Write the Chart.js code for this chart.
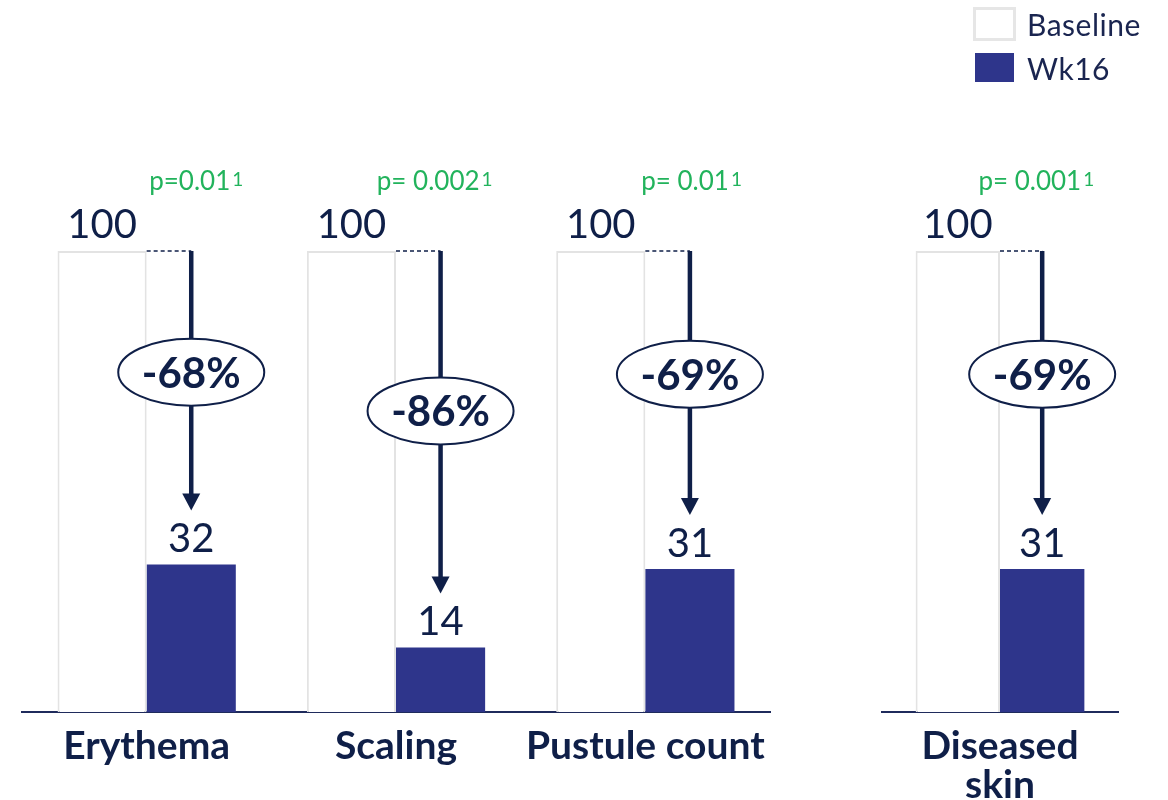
<!DOCTYPE html>
<html>
<head>
<meta charset="utf-8">
<script src="https://cdn.jsdelivr.net/npm/chart.js@4.4.1/dist/chart.umd.min.js"></script>
<style>
  html, body { margin: 0; padding: 0; background: #ffffff; }
  #wrap { position: relative; width: 1168px; height: 800px; overflow: hidden; }
  #wrap canvas { position: absolute; left: 0; top: 0; }
  #legend { position: absolute; left: 0; top: 0; width: 1168px; height: 100px; font-family: Lato, "Noto Sans", sans-serif; }
  .box { position: absolute; box-sizing: border-box; }
  .lbl { position: absolute; font-size: 30px; line-height: 30px; color: #1a2550; white-space: nowrap; letter-spacing: 0.5px; }
</style>
</head>
<body>
<div id="wrap">
  <canvas id="panelA" width="1168" height="800"></canvas>
  <canvas id="panelB" width="1168" height="800"></canvas>
  <div id="legend"></div>
</div>
<script>
// Outcome categories (the last one sits in its own panel on the right)
const categories = ['Erythema', 'Scaling', 'Pustule count', ['Diseased', 'skin']];
const seriesNames = ['Baseline', 'Wk16'];
const baselineValues = [100, 100, 100, 100];
const wk16Values = [32, 14, 31, 31];
const pValueLabels = ['p=0.01', 'p= 0.002', 'p= 0.01', 'p= 0.001'];
const pValueNote = '1';
const firstPanelCount = 3;

const NAVY = '#0f1f48';
const BAR_BLUE = '#2e358b';
const BASE_BORDER = '#e3e3e3';
const GREEN = '#22b35c';
const FONT = 'Lato, "Noto Sans", sans-serif';

// Draws the value labels, the drop arrow with its % change bubble and the p-value per category
const changeNotes = {
  id: 'changeNotes',
  afterDatasetsDraw(chart, args, opts) {
    const ctx = chart.ctx;
    const baseBars = chart.getDatasetMeta(0).data;
    const wkBars = chart.getDatasetMeta(1).data;
    baseBars.forEach((bEl, i) => {
      const k = opts.offset + i;
      const b = bEl.getProps(['x', 'y', 'width'], true);
      const w = wkBars[i].getProps(['x', 'y', 'width'], true);
      ctx.save();

      // value labels
      ctx.fillStyle = NAVY;
      ctx.font = '40px ' + FONT;
      ctx.textAlign = 'center';
      ctx.textBaseline = 'alphabetic';
      ctx.fillText(String(baselineValues[k]), b.x, b.y - 13);
      ctx.fillText(String(wk16Values[k]), w.x, w.y - 12);

      // dashed guide from the baseline bar top to the arrow
      ctx.strokeStyle = NAVY;
      ctx.lineWidth = 1.5;
      ctx.setLineDash([4, 3]);
      ctx.beginPath();
      ctx.moveTo(b.x + b.width / 2, b.y);
      ctx.lineTo(w.x, b.y);
      ctx.stroke();
      ctx.setLineDash([]);

      // arrow down to the Wk16 value
      const tip = w.y - 54;
      ctx.lineWidth = 4.5;
      ctx.beginPath();
      ctx.moveTo(w.x, b.y);
      ctx.lineTo(w.x, tip - 14);
      ctx.stroke();
      ctx.fillStyle = NAVY;
      ctx.beginPath();
      ctx.moveTo(w.x - 9, tip - 17);
      ctx.lineTo(w.x + 9, tip - 17);
      ctx.lineTo(w.x, tip);
      ctx.closePath();
      ctx.fill();

      // % change bubble
      const cy = b.y + 0.467 * (tip - b.y);
      ctx.beginPath();
      ctx.ellipse(w.x, cy, 73, 33.5, 0, 0, Math.PI * 2);
      ctx.fillStyle = '#ffffff';
      ctx.fill();
      ctx.lineWidth = 2;
      ctx.strokeStyle = NAVY;
      ctx.stroke();
      const pct = Math.round((wk16Values[k] - baselineValues[k]) / baselineValues[k] * 100);
      ctx.fillStyle = NAVY;
      ctx.font = 'bold 42px ' + FONT;
      ctx.textBaseline = 'middle';
      ctx.fillText(pct + '%', w.x, cy + 2);

      // p-value with footnote marker
      ctx.fillStyle = GREEN;
      ctx.textAlign = 'left';
      ctx.textBaseline = 'alphabetic';
      ctx.font = '26px ' + FONT;
      const mainW = ctx.measureText(pValueLabels[k]).width;
      ctx.font = '19px ' + FONT;
      const noteW = ctx.measureText(pValueNote).width;
      const right = w.x + 52;
      const left = right - mainW - noteW - 2;
      const py = b.y - 61;
      ctx.font = '26px ' + FONT;
      ctx.fillText(pValueLabels[k], left, py);
      ctx.font = '19px ' + FONT;
      ctx.fillText(pValueNote, left + mainW + 2, py - 4);

      ctx.restore();
    });
  }
};

function makePanel(canvasId, start, end, padLeft, padRight) {
  return new Chart(document.getElementById(canvasId), {
    type: 'bar',
    data: {
      labels: categories.slice(start, end),
      datasets: [
        {
          label: seriesNames[0],
          data: baselineValues.slice(start, end),
          backgroundColor: '#ffffff',
          borderColor: BASE_BORDER,
          borderWidth: 2,
          borderSkipped: 'bottom'
        },
        {
          label: seriesNames[1],
          data: wk16Values.slice(start, end),
          backgroundColor: BAR_BLUE,
          borderWidth: 0
        }
      ]
    },
    options: {
      responsive: false,
      animation: false,
      devicePixelRatio: 1,
      layout: { padding: { left: padLeft, right: padRight, top: 251, bottom: 0 } },
      datasets: { bar: { categoryPercentage: 0.715, barPercentage: 1 } },
      plugins: {
        legend: { display: false },
        tooltip: { enabled: false },
        changeNotes: { offset: start }
      },
      scales: {
        x: {
          grid: { display: false },
          border: { display: true, color: '#1f2b5c', width: 2 },
          ticks: {
            color: NAVY,
            font: { family: FONT, weight: 'bold', size: 39, lineHeight: 1.0 },
            padding: 7,
            maxRotation: 0,
            autoSkip: false
          },
          afterFit(scale) { scale.height = 88; }
        },
        y: { display: false, min: 0, max: 100 }
      }
    },
    plugins: [changeNotes]
  });
}

makePanel('panelA', 0, firstPanelCount, 22, 1168 - 770);
makePanel('panelB', firstPanelCount, categories.length, 882, 1168 - 1118);

// legend
const legendItems = [
  { bg: '#ffffff', border: '3px solid #e6e6e6', x: 973, y: 7, w: 43, h: 34, ty: 9 },
  { bg: BAR_BLUE, border: 'none', x: 975, y: 53, w: 39, h: 29, ty: 53 }
];
const legend = document.getElementById('legend');
seriesNames.forEach((name, i) => {
  const s = legendItems[i];
  const box = document.createElement('div');
  box.className = 'box';
  Object.assign(box.style, {
    left: s.x + 'px', top: s.y + 'px', width: s.w + 'px', height: s.h + 'px',
    background: s.bg, border: s.border
  });
  const lbl = document.createElement('span');
  lbl.className = 'lbl';
  lbl.style.left = '1027px';
  lbl.style.top = s.ty + 'px';
  lbl.textContent = name;
  legend.appendChild(box);
  legend.appendChild(lbl);
});
</script>
</body>
</html>
